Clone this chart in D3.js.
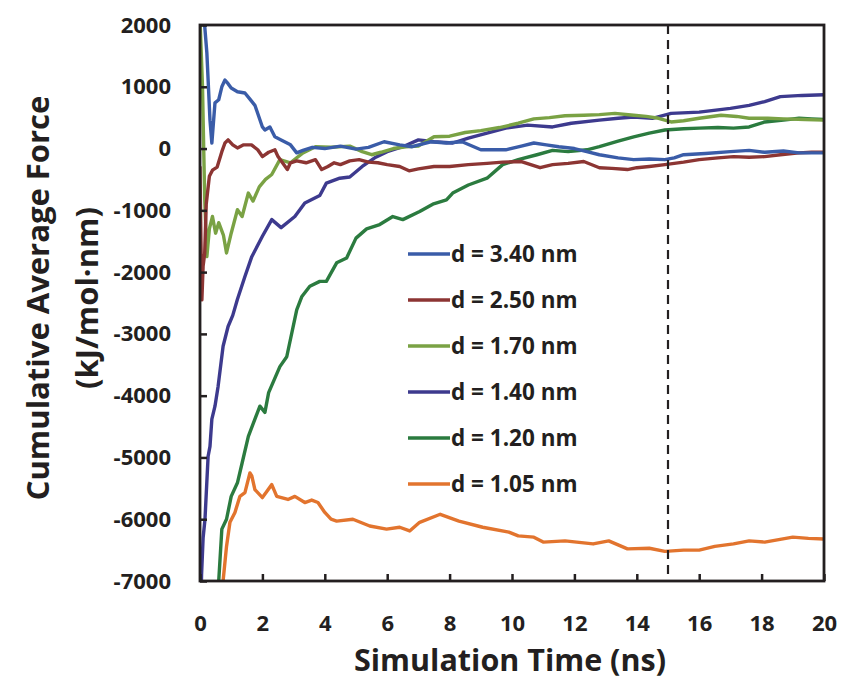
<!DOCTYPE html>
<html>
<head>
<meta charset="utf-8">
<script src="https://cdn.jsdelivr.net/npm/d3@7"></script>
<style>
  html, body { margin: 0; padding: 0; background: #fff; }
  svg { display: block; }
  text { font-family: "Open Sans", "DejaVu Sans", sans-serif; font-weight: 700; fill: #231f20; }
</style>
</head>
<body>
<svg id="chart" width="841" height="681"></svg>
<script>
// Cumulative average force vs. simulation time, one run per separation d
const labels = ["d = 3.40 nm", "d = 2.50 nm", "d = 1.70 nm", "d = 1.40 nm", "d = 1.20 nm", "d = 1.05 nm"];
const colors = ["#3a5ca8", "#8c3533", "#7aa244", "#3d3a8e", "#2b7b3f", "#e2742e"];

const timeD340 = [0, 0.1, 0.22, 0.32, 0.38, 0.48, 0.6, 0.7, 0.8, 0.9, 1.0, 1.2, 1.44, 1.6, 1.76, 2.0, 2.08, 2.24, 2.4, 2.6, 2.9, 3.1, 3.3, 3.6, 4.0, 4.5, 5.0, 5.4, 5.9, 6.4, 6.8, 7.4, 7.9, 8.4, 9.0, 9.8, 10.3, 10.7, 11.1, 11.5, 12.0, 12.4, 12.8, 13.4, 13.9, 14.4, 14.9, 15.2, 15.5, 16.2, 17.0, 17.6, 18.1, 18.7, 19.2, 20];
const forceD340 = [2600, 2300, 1550, 460, 90, 740, 790, 1000, 1110, 1050, 980, 920, 900, 800, 700, 350, 300, 350, 190, 140, 60, -70, -30, 20, 0, 40, -10, 20, 110, 60, 30, 110, 90, 110, -20, -20, 40, 90, 60, 30, 0, -50, -100, -150, -180, -170, -180, -150, -100, -80, -50, -30, -60, -40, -70, -70];

const timeD250 = [0, 0.03, 0.06, 0.1, 0.15, 0.2, 0.3, 0.4, 0.55, 0.7, 0.8, 0.9, 1.05, 1.2, 1.4, 1.65, 1.85, 2.0, 2.2, 2.4, 2.5, 2.8, 2.9, 3.1, 3.4, 3.7, 3.9, 4.1, 4.3, 4.5, 4.8, 5.1, 5.4, 5.7, 6.0, 6.4, 6.7, 7.0, 7.5, 8.0, 8.6, 9.2, 9.7, 10.3, 10.9, 11.3, 11.8, 12.3, 12.8, 13.2, 13.7, 14.0, 14.4, 14.9, 15.5, 16.0, 16.6, 17.1, 17.6, 18.1, 18.6, 19.2, 19.6, 20];
const forceD250 = [-300, -1500, -2450, -1900, -1700, -900, -450, -350, -300, -50, 90, 140, 60, 10, 60, 60, -20, -130, -60, -20, -130, -340, -230, -200, -230, -180, -340, -290, -230, -260, -200, -180, -220, -230, -260, -290, -360, -330, -290, -290, -260, -240, -220, -210, -310, -260, -240, -210, -310, -320, -340, -310, -290, -260, -220, -180, -150, -130, -140, -130, -100, -70, -60, -60];

const timeD170 = [0, 0.08, 0.15, 0.22, 0.3, 0.4, 0.5, 0.6, 0.75, 0.85, 1.0, 1.2, 1.35, 1.55, 1.7, 1.9, 2.1, 2.3, 2.56, 2.9, 3.3, 3.7, 4.2, 4.8, 5.2, 5.5, 5.8, 6.2, 6.6, 7.0, 7.5, 8.0, 8.5, 9.0, 9.6, 10.2, 10.7, 11.2, 11.7, 12.3, 12.8, 13.3, 13.9, 14.3, 14.7, 15.1, 15.5, 16.0, 16.7, 17.2, 17.6, 18.2, 18.7, 19.4, 20];
const forceD170 = [2100, 1000, -800, -1750, -1300, -1100, -1370, -1200, -1400, -1690, -1370, -990, -1100, -720, -850, -620, -500, -420, -180, -230, -70, 30, 20, 40, -50, -100, -60, 0, 30, 40, 190, 200, 260, 290, 340, 410, 480, 500, 530, 540, 550, 570, 540, 520, 490, 430, 450, 490, 540, 520, 490, 490, 480, 470, 460];

const timeD140 = [0, 0.05, 0.1, 0.16, 0.26, 0.32, 0.38, 0.48, 0.58, 0.74, 0.9, 1.05, 1.2, 1.44, 1.66, 2.0, 2.3, 2.6, 3.04, 3.36, 3.84, 4.05, 4.48, 4.8, 5.2, 5.6, 6.0, 6.5, 7.0, 7.5, 8.1, 8.6, 9.2, 9.8, 10.5, 11.3, 11.9, 12.8, 13.4, 13.9, 14.5, 15.1, 16.0, 17.0, 17.6, 18.1, 18.6, 19.3, 20];
const forceD140 = [-8000, -6900, -6300, -6000, -4980, -4820, -4380, -4170, -3850, -3200, -2880, -2700, -2440, -2070, -1750, -1420, -1150, -1280, -1100, -880, -760, -560, -480, -460, -290, -150, -50, 30, 140, 110, 90, 170, 250, 330, 380, 350, 410, 460, 490, 510, 490, 570, 590, 650, 700, 760, 840, 860, 870];

const timeD120 = [0.5, 0.6, 0.7, 0.85, 1.0, 1.2, 1.35, 1.55, 1.76, 1.92, 2.08, 2.2, 2.56, 2.78, 3.1, 3.26, 3.52, 3.84, 4.05, 4.38, 4.7, 5.0, 5.34, 5.76, 6.18, 6.5, 7.04, 7.46, 7.9, 8.1, 8.6, 9.2, 9.7, 10.2, 10.8, 11.3, 11.8, 12.4, 12.8, 13.4, 13.9, 14.4, 14.9, 15.5, 16.0, 16.6, 17.1, 17.6, 18.1, 18.7, 19.2, 19.6, 20];
const forceD120 = [-7500, -7000, -6160, -6000, -5630, -5410, -5090, -4660, -4380, -4170, -4270, -3950, -3530, -3370, -2610, -2400, -2230, -2150, -2150, -1850, -1770, -1450, -1300, -1230, -1100, -1150, -1020, -900, -830, -720, -590, -480, -260, -180, -100, -30, -50, -20, 30, 120, 190, 250, 300, 320, 330, 340, 330, 350, 430, 460, 490, 480, 470];

const timeD105 = [0.7, 0.74, 0.85, 0.96, 1.12, 1.28, 1.44, 1.6, 1.66, 1.76, 2.0, 2.14, 2.3, 2.46, 2.82, 3.04, 3.36, 3.58, 3.78, 4.0, 4.2, 4.38, 4.9, 5.44, 5.98, 6.4, 6.72, 7.04, 7.7, 8.3, 9.06, 9.9, 10.2, 10.7, 11.0, 11.7, 12.6, 13.1, 13.7, 14.4, 14.9, 15.5, 16.0, 16.5, 17.1, 17.6, 18.1, 19.0, 19.5, 20];
const forceD105 = [-7500, -7000, -6440, -6050, -5890, -5630, -5570, -5250, -5300, -5520, -5650, -5550, -5440, -5630, -5680, -5630, -5730, -5690, -5730, -5890, -6000, -6030, -6000, -6110, -6160, -6130, -6190, -6050, -5920, -6030, -6130, -6210, -6270, -6290, -6370, -6350, -6400, -6350, -6480, -6470, -6520, -6500, -6500, -6440, -6400, -6350, -6370, -6290, -6310, -6320];

const xTicks = [0, 2, 4, 6, 8, 10, 12, 14, 16, 18, 20];
const yTicks = [2000, 1000, 0, -1000, -2000, -3000, -4000, -5000, -6000, -7000];
const markerTime = 15;

const series = [
  { name: labels[0], color: colors[0], t: timeD340, f: forceD340 },
  { name: labels[1], color: colors[1], t: timeD250, f: forceD250 },
  { name: labels[2], color: colors[2], t: timeD170, f: forceD170 },
  { name: labels[3], color: colors[3], t: timeD140, f: forceD140 },
  { name: labels[4], color: colors[4], t: timeD120, f: forceD120 },
  { name: labels[5], color: colors[5], t: timeD105, f: forceD105 }
];

const svg = d3.select("#chart");
const plot = { left: 200, right: 824, top: 25, bottom: 581 };

const x = d3.scaleLinear().domain([0, 20]).range([plot.left, plot.right]);
const y = d3.scaleLinear().domain([-7000, 2000]).range([plot.bottom, plot.top]);

svg.append("defs").append("clipPath").attr("id", "plotClip")
  .append("rect")
  .attr("x", plot.left).attr("y", plot.top)
  .attr("width", plot.right - plot.left).attr("height", plot.bottom - plot.top);

// curves
const line = d3.line().x(d => x(d[0])).y(d => y(d[1]));
const curves = svg.append("g").attr("clip-path", "url(#plotClip)");
// draw order: later runs sit underneath the earlier ones
series.slice().reverse().forEach(s => {
  curves.append("path")
    .datum(s.t.map((tv, i) => [tv, s.f[i]]))
    .attr("d", line)
    .attr("fill", "none")
    .attr("stroke", s.color)
    .attr("stroke-width", 3.4)
    .attr("stroke-linejoin", "round")
    .attr("stroke-linecap", "round");
});

// dashed marker at 15 ns
svg.append("line")
  .attr("x1", x(markerTime)).attr("x2", x(markerTime))
  .attr("y1", plot.top).attr("y2", plot.bottom)
  .attr("stroke", "#231f20").attr("stroke-width", 2.2)
  .attr("stroke-dasharray", "9,6");

// axes with inward ticks; plain hyphen for negative labels
const plain = d => String(d);
const xAxis = d3.axisBottom(x).tickValues(xTicks).tickSize(-7).tickPadding(34).tickFormat(plain);
const yAxis = d3.axisLeft(y).tickValues(yTicks).tickSize(-7).tickPadding(29).tickFormat(plain);

const gx = svg.append("g").attr("transform", `translate(0,${plot.bottom})`).call(xAxis);
const gy = svg.append("g").attr("transform", `translate(${plot.left},0)`).call(yAxis);
[gx, gy].forEach(g => {
  g.select(".domain").remove();
  g.selectAll(".tick line").attr("stroke", "#231f20").attr("stroke-width", 2.5);
  g.selectAll(".tick text").attr("font-size", 22).attr("font-family", "'Open Sans', sans-serif")
    .attr("font-weight", 700).attr("fill", "#231f20");
});
gx.selectAll(".tick text").attr("dy", "0.71em");

// frame
svg.append("rect")
  .attr("x", plot.left).attr("y", plot.top)
  .attr("width", plot.right - plot.left).attr("height", plot.bottom - plot.top)
  .attr("fill", "none").attr("stroke", "#231f20").attr("stroke-width", 2.8);

// axis titles
svg.append("text")
  .attr("x", 510).attr("y", 671)
  .attr("text-anchor", "middle").attr("font-size", 30.5)
  .text("Simulation Time (ns)");

const yTitle = svg.append("g").attr("transform", "translate(0,298) rotate(-90)");
yTitle.append("text").attr("x", 0).attr("y", 49)
  .attr("text-anchor", "middle").attr("font-size", 31)
  .text("Cumulative Average Force");
yTitle.append("text").attr("x", 0).attr("y", 98)
  .attr("text-anchor", "middle").attr("font-size", 31)
  .text("(kJ/mol·nm)");

// legend
const legend = svg.append("g").attr("transform", "translate(408,254)");
series.forEach((s, i) => {
  const row = legend.append("g").attr("transform", `translate(0,${i * 46})`);
  row.append("line").attr("x1", 0).attr("x2", 42).attr("y1", 0).attr("y2", 0)
    .attr("stroke", s.color).attr("stroke-width", 3.4);
  row.append("text").attr("x", 43).attr("y", 0).attr("dy", "0.36em")
    .attr("font-size", 22.5).text(s.name);
});
</script>
</body>
</html>
